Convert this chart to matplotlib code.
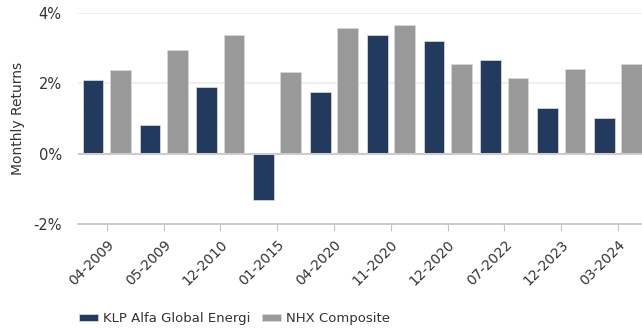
import matplotlib.pyplot as plt
import numpy as np

months = ['04-2009', '05-2009', '12-2010', '01-2015', '04-2020',
          '11-2020', '12-2020', '07-2022', '12-2023', '03-2024']
klp = [2.10, 0.80, 1.90, -1.32, 1.76, 3.38, 3.20, 2.66, 1.29, 1.02]
nhx = [2.38, 2.93, 3.38, 2.32, 3.58, 3.65, 2.56, 2.14, 2.41, 2.56]

fig = plt.figure(figsize=(6.42, 3.29), dpi=100)
ax = fig.add_axes([0.122, 0.319, 0.885, 0.642])

x = np.arange(len(months))
w = 0.365
ax.bar(x - 0.24, klp, w, color='#223a5e', edgecolor='#d0d4dc', linewidth=0.6,
       label='KLP Alfa Global Energi', zorder=3)
ax.bar(x + 0.24, nhx, w, color='#999999', edgecolor='#d8d8d8', linewidth=0.6,
       label='NHX Composite', zorder=3)

ax.set_xlim(-0.5, 9.5)
ax.set_ylim(-2, 4)
ax.set_yticks([-2, 0, 2, 4])
ax.set_yticklabels(['-2%', '0%', '2%', '4%'])
ax.set_xticks(x)
ax.set_xticklabels(months, rotation=45, ha='right', rotation_mode='anchor')

for v in [2, 4]:
    ax.axhline(v, color='#ececec', linewidth=1.2, zorder=1)
ax.axhline(0, color='#cccccc', linewidth=1.5, zorder=4)

for s in ['left', 'right', 'top']:
    ax.spines[s].set_visible(False)
ax.spines['bottom'].set_color('#c4c4c4')
ax.spines['bottom'].set_linewidth(1.2)
ax.tick_params(axis='y', length=0, labelsize=10.5, labelcolor='#333333', pad=12)
ax.tick_params(axis='x', length=5, color='#c4c4c4', labelsize=10,
               labelcolor='#333333', pad=5)

ax.set_ylabel('Monthly Returns', fontsize=10, color='#333333', labelpad=6)

fig.legend(loc='lower left', bbox_to_anchor=(0.105, -0.025), ncol=2, frameon=False,
           fontsize=9.5, handlelength=1.4, handleheight=0.45, handletextpad=0.4,
           columnspacing=0.9, labelcolor='#333333')

fig.savefig('out.png', dpi=100)
